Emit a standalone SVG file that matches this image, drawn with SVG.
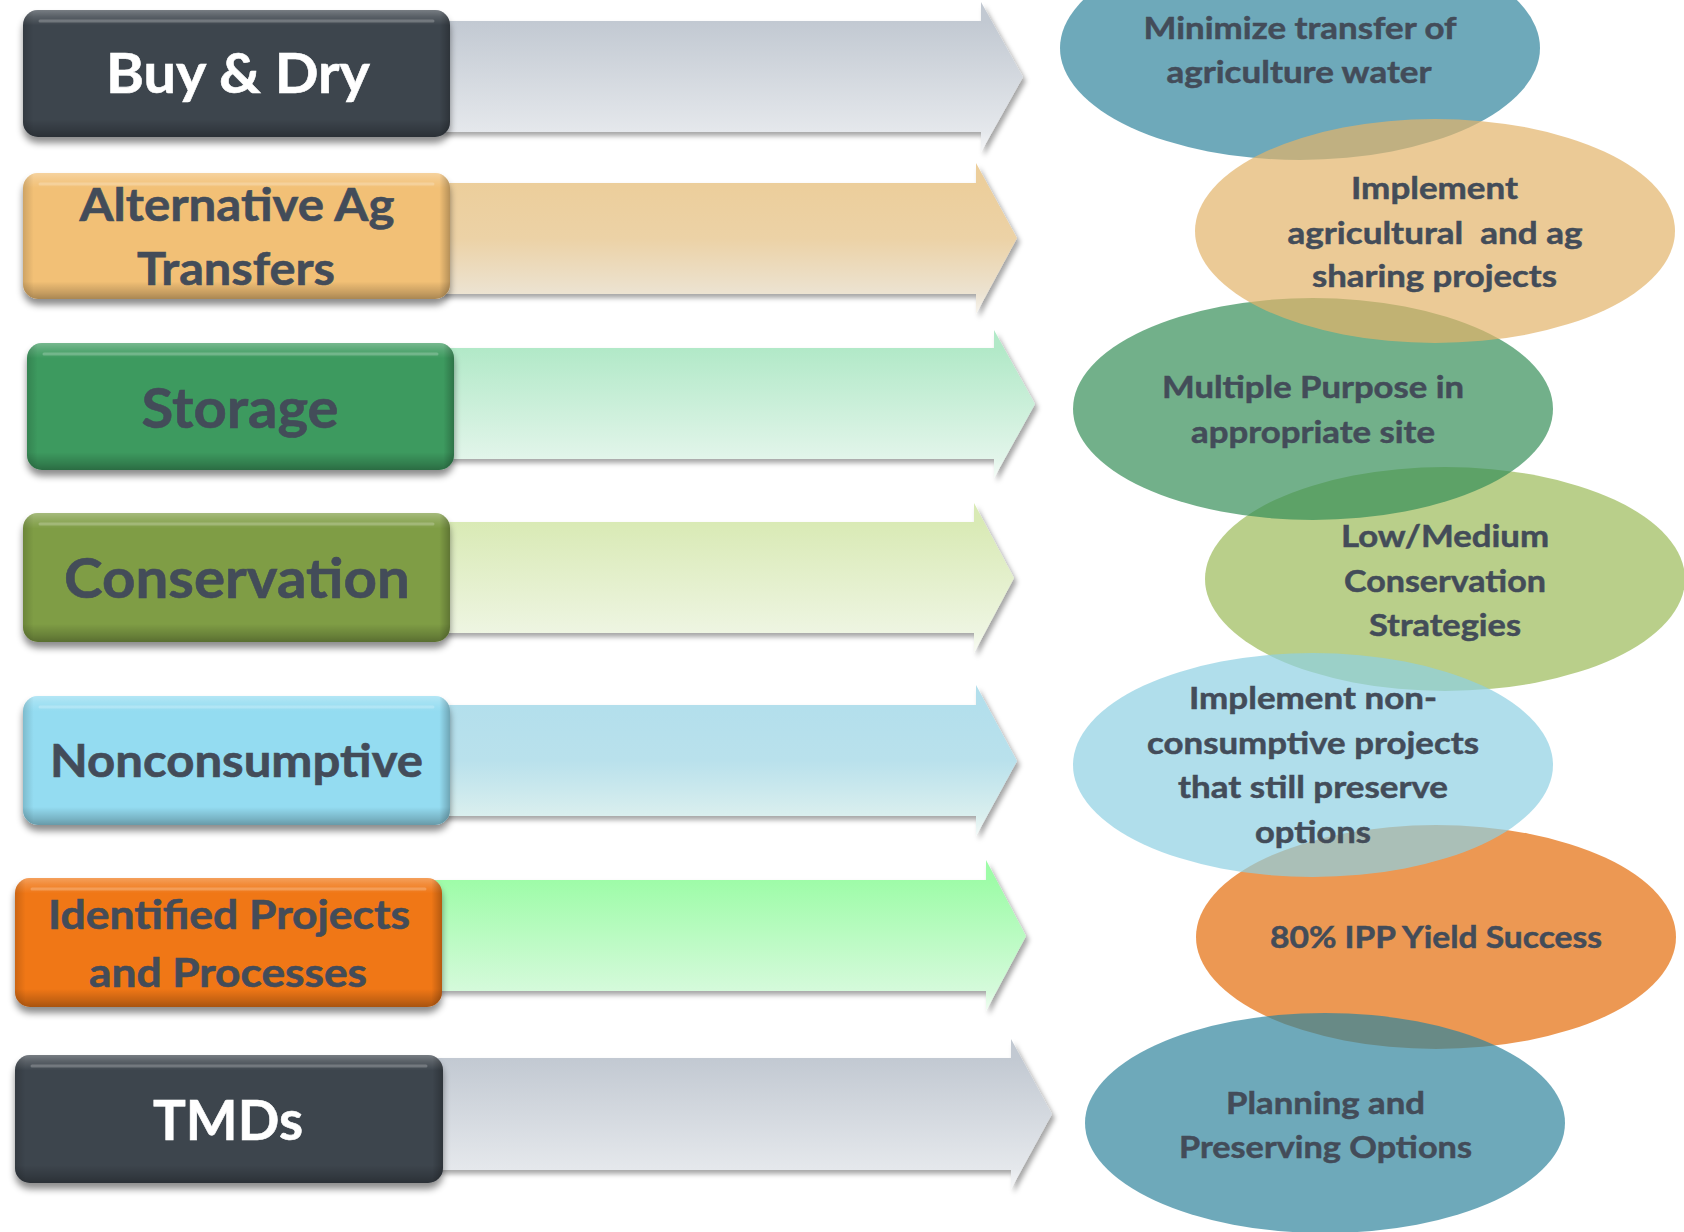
<svg xmlns="http://www.w3.org/2000/svg" width="1684" height="1232" viewBox="0 0 1684 1232">
<style>
.lbl{font-family:Lato,"Open Sans","Liberation Sans",sans-serif;font-weight:700;text-anchor:middle;fill:#434c59;stroke:#434c59;stroke-width:0.6}
.w{fill:#ffffff;stroke:#ffffff}
.big{font-size:56px}
.mid{font-size:46px}
.sm{font-size:41px}
.et{font-size:31px;stroke-width:0.5}
.box{filter:url(#boxShadow)}
.bev{fill:url(#bevelV)}
.bevh{fill:url(#bevelH)}
.hl{fill:none;stroke:#ffffff;stroke-opacity:0.22;stroke-width:3;stroke-linecap:round}
.arrow{filter:url(#arrowShadow)}
.ell{opacity:0.7}
</style>
<defs>
<filter id="boxShadow" x="-10%" y="-20%" width="120%" height="150%">
<feDropShadow dx="0" dy="6" stdDeviation="3.5" flood-color="#000" flood-opacity="0.45"/>
</filter>
<filter id="arrowShadow" x="-5%" y="-20%" width="115%" height="150%">
<feDropShadow dx="3" dy="4" stdDeviation="2.5" flood-color="#000" flood-opacity="0.35"/>
</filter>
<linearGradient id="bevelV" x1="0" y1="0" x2="0" y2="1">
<stop offset="0" stop-color="#fff" stop-opacity="0.3"/>
<stop offset="0.05" stop-color="#fff" stop-opacity="0.15"/>
<stop offset="0.12" stop-color="#fff" stop-opacity="0"/>
<stop offset="0.86" stop-color="#000" stop-opacity="0"/>
<stop offset="0.95" stop-color="#000" stop-opacity="0.18"/>
<stop offset="1" stop-color="#000" stop-opacity="0.3"/>
</linearGradient>
<linearGradient id="bevelH" x1="0" y1="0" x2="1" y2="0">
<stop offset="0" stop-color="#000" stop-opacity="0.15"/>
<stop offset="0.025" stop-color="#000" stop-opacity="0"/>
<stop offset="0.975" stop-color="#000" stop-opacity="0"/>
<stop offset="1" stop-color="#000" stop-opacity="0.25"/>
</linearGradient>
<linearGradient id="gGray" x1="0" y1="0" x2="0" y2="1">
<stop offset="0.13" stop-color="#c2c9d2"/>
<stop offset="0.87" stop-color="#e5e8ec"/>
<stop offset="1" stop-color="#f7f8f9"/>
</linearGradient>
<linearGradient id="gTan" x1="0" y1="0" x2="0" y2="1">
<stop offset="0.13" stop-color="#ecce9b"/>
<stop offset="0.5" stop-color="#ecd2a6"/>
<stop offset="0.87" stop-color="#ece3d2"/>
<stop offset="1" stop-color="#f8f5ef"/>
</linearGradient>
<linearGradient id="gGreen" x1="0" y1="0" x2="0" y2="1">
<stop offset="0.13" stop-color="#b2e9c8"/>
<stop offset="0.87" stop-color="#e2f5ea"/>
<stop offset="1" stop-color="#f6fcf8"/>
</linearGradient>
<linearGradient id="gOlive" x1="0" y1="0" x2="0" y2="1">
<stop offset="0.13" stop-color="#d9eab5"/>
<stop offset="0.87" stop-color="#eef5e2"/>
<stop offset="1" stop-color="#f9fbf5"/>
</linearGradient>
<linearGradient id="gBlue" x1="0" y1="0" x2="0" y2="1">
<stop offset="0.13" stop-color="#b3dfec"/>
<stop offset="0.5" stop-color="#b9e1ec"/>
<stop offset="0.87" stop-color="#daefee"/>
<stop offset="1" stop-color="#f4faf9"/>
</linearGradient>
<linearGradient id="gMint" x1="0" y1="0" x2="0" y2="1">
<stop offset="0.13" stop-color="#9efca8"/>
<stop offset="0.87" stop-color="#d5fadb"/>
<stop offset="1" stop-color="#f3fdf4"/>
</linearGradient>
</defs>
<rect x="0" y="0" width="1684" height="1232" fill="#ffffff"/>

<g id="connectors">
<polygon class="arrow" fill="url(#gGray)" points="440,21 981,21 981,2 1023,77 981,152 981,132 440,132"/>
<polygon class="arrow" fill="url(#gTan)" points="440,183 976,183 976,163 1017,238 976,314 976,294 440,294"/>
<polygon class="arrow" fill="url(#gGreen)" points="444,348 994,348 994,330 1035,404 994,478 994,459 444,459"/>
<polygon class="arrow" fill="url(#gOlive)" points="440,522 974,522 974,503 1014,578 974,653 974,633 440,633"/>
<polygon class="arrow" fill="url(#gBlue)" points="440,705 976,705 976,685 1017,761 976,836 976,816 440,816"/>
<polygon class="arrow" fill="url(#gMint)" points="432,880 986,880 986,860 1026,936 986,1011 986,991 432,991"/>
<polygon class="arrow" fill="url(#gGray)" points="432,1058 1011,1058 1011,1039 1052,1114 1011,1189 1011,1170 432,1170"/>
</g>

<g id="node-buy-dry">
<rect class="box" x="23" y="10" width="427" height="127" rx="15" fill="#3d454e"/>
<rect class="bev" x="23" y="10" width="427" height="127" rx="15"/>
<rect class="bevh" x="23" y="10" width="427" height="127" rx="15"/>
<path class="hl" d="M40,21 H433"/>
<text class="lbl w big" x="238" y="93" textLength="264" lengthAdjust="spacingAndGlyphs">Buy &amp; Dry</text>
</g>

<g id="node-alt-ag">
<rect class="box" x="23" y="173" width="427" height="126" rx="15" fill="#f2c076"/>
<rect class="bev" x="23" y="173" width="427" height="126" rx="15"/>
<rect class="bevh" x="23" y="173" width="427" height="126" rx="15"/>
<path class="hl" d="M40,184 H433"/>
<text class="lbl mid" x="237" y="221" textLength="315" lengthAdjust="spacingAndGlyphs">Alternative Ag</text>
<text class="lbl mid" x="236" y="285" textLength="198" lengthAdjust="spacingAndGlyphs">Transfers</text>
</g>

<g id="node-storage">
<rect class="box" x="27" y="343" width="427" height="127" rx="15" fill="#3c9a5f"/>
<rect class="bev" x="27" y="343" width="427" height="127" rx="15"/>
<rect class="bevh" x="27" y="343" width="427" height="127" rx="15"/>
<path class="hl" d="M44,354 H437"/>
<text class="lbl big" x="240" y="428" textLength="197" lengthAdjust="spacingAndGlyphs">Storage</text>
</g>

<g id="node-conservation">
<rect class="box" x="23" y="513" width="427" height="129" rx="15" fill="#7f9d44"/>
<rect class="bev" x="23" y="513" width="427" height="129" rx="15"/>
<rect class="bevh" x="23" y="513" width="427" height="129" rx="15"/>
<path class="hl" d="M40,524 H433"/>
<text class="lbl big" x="237" y="598" textLength="346" lengthAdjust="spacingAndGlyphs">Conservation</text>
</g>

<g id="node-nonconsumptive">
<rect class="box" x="23" y="696" width="427" height="129" rx="15" fill="#94dcf1"/>
<rect class="bev" x="23" y="696" width="427" height="129" rx="15"/>
<rect class="bevh" x="23" y="696" width="427" height="129" rx="15"/>
<path class="hl" d="M40,707 H433"/>
<text class="lbl mid" x="236.5" y="777" textLength="373" lengthAdjust="spacingAndGlyphs">Nonconsumptive</text>
</g>

<g id="node-identified">
<rect class="box" x="15" y="878" width="427" height="129" rx="15" fill="#f07717"/>
<rect class="bev" x="15" y="878" width="427" height="129" rx="15"/>
<rect class="bevh" x="15" y="878" width="427" height="129" rx="15"/>
<path class="hl" d="M32,889 H425"/>
<text class="lbl sm" x="229" y="929" textLength="362" lengthAdjust="spacingAndGlyphs">Identified Projects</text>
<text class="lbl sm" x="228" y="987" textLength="278" lengthAdjust="spacingAndGlyphs">and Processes</text>
</g>

<g id="node-tmds">
<rect class="box" x="15" y="1055" width="428" height="128" rx="15" fill="#3d454e"/>
<rect class="bev" x="15" y="1055" width="428" height="128" rx="15"/>
<rect class="bevh" x="15" y="1055" width="428" height="128" rx="15"/>
<path class="hl" d="M32,1066 H426"/>
<text class="lbl w big" x="228" y="1140" textLength="150" lengthAdjust="spacingAndGlyphs">TMDs</text>
</g>

<g id="goal-minimize">
<ellipse class="ell" cx="1300" cy="48" rx="240" ry="112" fill="#31859c"/>
<text class="lbl et" x="1300" y="39" textLength="313" lengthAdjust="spacingAndGlyphs">Minimize transfer of</text>
<text class="lbl et" x="1299" y="83" textLength="265" lengthAdjust="spacingAndGlyphs">agriculture water</text>
</g>

<g id="goal-low-medium">
<ellipse class="ell" cx="1445" cy="579" rx="240" ry="112" fill="#9bbb59"/>
<text class="lbl et" x="1445" y="547" textLength="208" lengthAdjust="spacingAndGlyphs">Low/Medium</text>
<text class="lbl et" x="1445" y="592" textLength="202" lengthAdjust="spacingAndGlyphs">Conservation</text>
<text class="lbl et" x="1445" y="636" textLength="152" lengthAdjust="spacingAndGlyphs">Strategies</text>
</g>

<g id="goal-multiple">
<ellipse class="ell" cx="1313" cy="409" rx="240" ry="111" fill="#368e58"/>
<text class="lbl et" x="1313" y="398" textLength="302" lengthAdjust="spacingAndGlyphs">Multiple Purpose in</text>
<text class="lbl et" x="1313" y="443" textLength="244" lengthAdjust="spacingAndGlyphs">appropriate site</text>
</g>

<g id="goal-implement-ag">
<ellipse class="ell" cx="1435" cy="231" rx="240" ry="112" fill="#e2b369"/>
<text class="lbl et" x="1434.5" y="199" textLength="167" lengthAdjust="spacingAndGlyphs">Implement</text>
<text class="lbl et" x="1435" y="244" textLength="295" lengthAdjust="spacingAndGlyphs" style="white-space:pre">agricultural  and ag</text>
<text class="lbl et" x="1434.5" y="287" textLength="245" lengthAdjust="spacingAndGlyphs">sharing projects</text>
</g>

<g id="goal-ipp">
<ellipse class="ell" cx="1436" cy="937" rx="240" ry="112" fill="#e46c0a"/>
<text class="lbl et" x="1436" y="948" textLength="332" lengthAdjust="spacingAndGlyphs">80% IPP Yield Success</text>
</g>

<g id="goal-nonconsumptive">
<ellipse class="ell" cx="1313" cy="765" rx="240" ry="112" fill="#8ed0e3"/>
<text class="lbl et" x="1313" y="709" textLength="248" lengthAdjust="spacingAndGlyphs">Implement non-</text>
<text class="lbl et" x="1313" y="754" textLength="332" lengthAdjust="spacingAndGlyphs">consumptive projects</text>
<text class="lbl et" x="1313" y="798" textLength="270" lengthAdjust="spacingAndGlyphs">that still preserve</text>
<text class="lbl et" x="1313" y="843" textLength="116" lengthAdjust="spacingAndGlyphs">options</text>
</g>

<g id="goal-planning">
<ellipse class="ell" cx="1325" cy="1123" rx="240" ry="110" fill="#31859c"/>
<text class="lbl et" x="1325.5" y="1114" textLength="199" lengthAdjust="spacingAndGlyphs">Planning and</text>
<text class="lbl et" x="1325.5" y="1158" textLength="293" lengthAdjust="spacingAndGlyphs">Preserving Options</text>
</g>
</svg>
